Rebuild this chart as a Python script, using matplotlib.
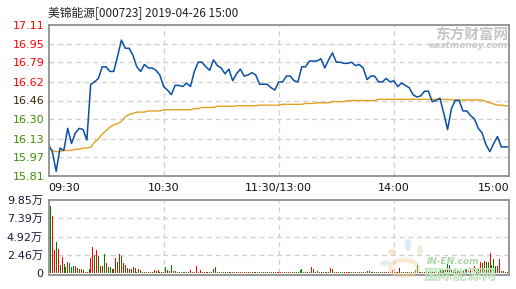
import matplotlib
matplotlib.use('Agg')
import matplotlib.pyplot as plt
import numpy as np
from matplotlib.patches import Circle, Ellipse

# ---------------- data ----------------
title = "美锦能源[000723] 2019-04-26 15:00"
prev_close = 16.46
price_ticks = [17.11, 16.95, 16.79, 16.62, 16.46, 16.30, 16.13, 15.97, 15.81]
vol_ticks = [0, 2.46, 4.92, 7.39, 9.85]
vol_tick_labels = ["0", "2.46万", "4.92万", "7.39万", "9.85万"]
time_ticks = [0, 60, 120, 180, 240]
time_labels = ["09:30", "10:30", "11:30/13:00", "14:00", "15:00"]

price_minutes = list(range(0, 241, 2))
price = [
    16.08, 16.02, 15.85, 16.05, 16.03, 16.22, 16.09, 16.18, 16.22, 16.21,
    16.12, 16.60, 16.62, 16.65, 16.75, 16.75, 16.71, 16.71, 16.84, 16.98,
    16.91, 16.91, 16.85, 16.75, 16.71, 16.77, 16.74, 16.74, 16.72, 16.68,
    16.58,
    16.55, 16.51, 16.59, 16.59, 16.58, 16.61, 16.58, 16.71, 16.79, 16.79,
    16.75, 16.72, 16.81, 16.76, 16.74, 16.69, 16.73, 16.63, 16.69, 16.73,
    16.67, 16.68, 16.70, 16.68, 16.60, 16.60, 16.60, 16.57, 16.55, 16.62,
    16.62, 16.67, 16.67, 16.63, 16.62, 16.75, 16.75, 16.80, 16.80, 16.80,
    16.82, 16.74, 16.81, 16.87, 16.79, 16.79, 16.78, 16.78, 16.79, 16.76,
    16.77, 16.74, 16.64, 16.67, 16.67, 16.62, 16.62, 16.65, 16.62, 16.63,
    16.58, 16.61, 16.59, 16.57, 16.51, 16.49, 16.50, 16.54, 16.54, 16.45,
    16.46, 16.48, 16.35, 16.21, 16.39, 16.46, 16.46, 16.37, 16.37, 16.33,
    16.30, 16.22, 16.18, 16.08, 16.02, 16.09, 16.15, 16.06, 16.06, 16.06,
]
avg_price = [
    16.05, 16.03, 16.02, 16.02, 16.03, 16.03, 16.03, 16.04, 16.04, 16.05,
    16.05, 16.06, 16.10, 16.13, 16.17, 16.20, 16.23, 16.25, 16.26, 16.28,
    16.32, 16.34, 16.35, 16.36, 16.36, 16.36, 16.37, 16.37, 16.37, 16.37,
    16.38,
    16.38, 16.38, 16.38, 16.38, 16.38, 16.38, 16.38, 16.39, 16.39, 16.40,
    16.40, 16.40, 16.40, 16.41, 16.41, 16.41, 16.41, 16.41, 16.415, 16.415,
    16.415, 16.415, 16.415, 16.415, 16.42, 16.42, 16.42, 16.42, 16.42, 16.42,
    16.427, 16.427, 16.427, 16.427, 16.427, 16.427, 16.435, 16.435, 16.435, 16.44,
    16.44, 16.44, 16.44, 16.45, 16.45, 16.45, 16.45, 16.46, 16.46, 16.46,
    16.46, 16.46, 16.46, 16.46, 16.46, 16.47, 16.47, 16.47, 16.47, 16.47,
    16.47, 16.47, 16.47, 16.47, 16.47, 16.47, 16.47, 16.47, 16.47, 16.47,
    16.47, 16.47, 16.47, 16.47, 16.465, 16.465, 16.465, 16.465, 16.465, 16.465,
    16.465, 16.465, 16.465, 16.45, 16.44, 16.43, 16.42, 16.42, 16.415, 16.41,
]

# volume per minute (unit: 万), 240 bars
volume = [
    9.05, 7.72, 3.06, 4.17, 3.19, 1.06, 2.13, 1.20, 0.84, 1.46,
    1.33, 0.80, 0.93, 0.93, 0.67, 0.53, 0.53, 0.40, 0.14, 0.14,
    0.53, 2.00, 3.46, 2.40, 3.06, 2.26, 0.93, 0.93, 2.53, 1.33,
    0.80, 0.80, 0.53, 0.53, 2.00, 1.46, 2.53, 2.26, 1.33, 1.06,
    0.67, 0.53, 0.53, 0.80, 0.67, 0.14, 0.53, 0.40, 0.14, 0.14,
    0.14, 0.14, 0.14, 0.14, 0.40, 0.27, 0.40, 0.14, 0.14, 0.14,
    0.80, 0.40, 0.27, 1.06, 0.27, 0.27, 0.14, 0.14, 0.14, 0.14,
    0.14, 0.14, 0.14, 0.40, 0.14, 0.14, 0.93, 0.14, 0.40, 0.14,
    0.14, 0.14, 0.14, 0.14, 0.14, 0.53, 0.80, 0.14, 0.14, 0.14,
    0.14, 0.14, 0.14, 0.14, 0.14, 0.14, 0.14, 0.14, 0.14, 0.14,
    0.14, 0.14, 0.14, 0.14, 0.14, 0.14, 0.14, 0.14, 0.14, 0.14,
    0.14, 0.14, 0.14, 0.14, 0.14, 0.14, 0.14, 0.14, 0.14, 0.14,
    0.14, 0.14, 0.14, 0.14, 0.14, 0.14, 0.14, 0.14, 0.14, 0.14,
    0.40, 0.53, 0.14, 0.14, 0.14, 0.14, 0.80, 0.53, 0.14, 0.27,
    0.14, 0.14, 0.14, 0.14, 0.14, 0.14, 0.67, 0.53, 0.14, 0.14,
    0.14, 0.14, 0.14, 0.14, 0.14, 0.14, 0.14, 0.14, 0.14, 0.14,
    0.14, 0.14, 0.14, 0.14, 0.14, 0.27, 0.27, 0.14, 0.14, 0.14,
    0.14, 0.14, 0.14, 0.14, 0.14, 0.14, 0.14, 0.14, 0.40, 0.14,
    0.14, 0.14, 0.67, 0.14, 0.14, 0.14, 0.14, 0.14, 0.14, 0.14,
    0.40, 1.06, 0.14, 0.14, 0.14, 0.14, 0.14, 0.14, 0.27, 0.14,
    0.14, 0.27, 0.14, 0.40, 0.67, 0.40, 0.53, 1.20, 1.06, 0.40,
    0.40, 0.53, 0.40, 0.27, 0.27, 0.27, 0.40, 0.53, 0.27, 0.67,
    0.53, 0.93, 0.40, 0.67, 1.46, 1.33, 1.60, 1.46, 1.46, 2.66,
    1.06, 1.86, 0.93, 0.93, 1.86, 0.27, 0.27, 0.14, 0.14, 2.80,
]
vol_dir = (
    "grrgrgrggr" "grgrrgrggg" "grrrrrgrgr" "gggrrrrgrg" "rgrggggrrg"
    "ggrrgrgrgg" "grggrrgrgr" "grgrgrrgrg" "rgrgrrggrg" "grgrggrgrg"
    "rgrggrgrgr" "grggrgrgrg" "rgrgrrgrgr" "rgrgrrrgrg" "rgrrgrrgrg"
    "rgrgrgrrgr" "grgrggrrgr" "grgrrgrggr" "rgrgrgrrgr" "rrgrgrgrgg"
    "ggrgggrgrg" "rgrggrgrgg" "rgggggggggr"[:10] + "gggrrgrgrr"
)

# ---------------- style ----------------
W, H = 516, 289
fig = plt.figure(figsize=(W / 100, H / 100), dpi=100)
fig.patch.set_facecolor('white')

L, R = 48.5, 509.0
ax = fig.add_axes([L / W, 1 - 176 / H, (R - L) / W, (176 - 25) / H])
axv = fig.add_axes([L / W, 1 - 273 / H, (R - L) / W, (273 - 200) / H])

spine_col = '#8f8f8f'
grid_kw = dict(color='#cfcfcf', linestyle=(0, (4, 3)), linewidth=0.9)

for a in (ax, axv):
    for s in a.spines.values():
        s.set_color(spine_col)
        s.set_linewidth(1.3)
        s.set_zorder(5)
    a.set_xlim(0, 240)
    a.tick_params(length=0)
axv.spines['bottom'].set_position(('outward', 1.2))

# price panel
ax.set_ylim(15.81, 17.11)
for t in price_ticks[1:-1]:
    ax.axhline(t, zorder=1, **grid_kw)
for t in time_ticks[1:-1]:
    ax.axvline(t, zorder=1, **grid_kw)

ax.plot(price_minutes, avg_price, color='#e0a020', linewidth=1.0, zorder=3)
ax.plot(price_minutes, price, color='#0b4fa3', linewidth=1.1, zorder=4)

ax.set_yticks(price_ticks)
ax.set_yticklabels([f"{t:.2f}" for t in price_ticks], fontsize=8,
                   family='DejaVu Sans')
for lab, t in zip(ax.get_yticklabels(), price_ticks):
    if t > prev_close + 1e-9:
        lab.set_color('#ff0000')
    elif t < prev_close - 1e-9:
        lab.set_color('#3c8c00')
    else:
        lab.set_color('#3a2a10')
ax.tick_params(axis='y', pad=3)

ax.set_xticks(time_ticks)
ax.set_xticklabels(time_labels, fontsize=8, family='DejaVu Sans', color='#111111')
ax.tick_params(axis='x', pad=5)
xl = ax.get_xticklabels()
xl[0].set_ha('left')
xl[-1].set_ha('right')

# volume panel
axv.set_ylim(0, 9.85)
for t in vol_ticks[1:-1]:
    axv.axhline(t, zorder=1, **grid_kw)
for t in time_ticks[1:-1]:
    axv.axvline(t, zorder=1, **grid_kw)

bar_x = np.arange(len(volume)) + 0.85
bar_cols = ['#ff0000' if d == 'r' else '#008000' for d in vol_dir[:len(volume)]]
axv.vlines(bar_x, 0, volume, colors=bar_cols, linewidth=0.72, zorder=3,
           antialiased=False, snap=True)
axv.set_yticks(vol_ticks)
axv.set_yticklabels(vol_tick_labels, fontsize=8,
                    family=['DejaVu Sans', 'Noto Sans CJK SC'], color='#1a1a3a')
axv.tick_params(axis='y', pad=4)
axv.set_xticks([])

# title
fig.text(L / W, 1 - 13 / H, title, fontsize=8.5, color='#222222',
         family=['Noto Sans CJK SC', 'DejaVu Sans'], ha='left', va='center')

# watermarks
fig.text(508 / W, 1 - 35 / H, "东方财富网", fontsize=10.5, color='#c4c4c4',
         family=['Noto Sans CJK SC'], weight='bold', ha='right', va='center')
fig.text(508 / W, 1 - 46 / H, "eastmoney.com", fontsize=6.5, color='#c8c8c8',
         family='DejaVu Sans', weight='bold', style='italic', ha='right', va='center')
fig.text(427 / W, 1 - 261 / H, "IN-EN.com", fontsize=6.5, color='#a8d8a0',
         family='DejaVu Sans', style='italic', weight='bold', ha='left', va='center')
fig.text(424 / W, 1 - 275 / H, "国际能源网", fontsize=10.5, color='#bfe5bb',
         family=['Noto Sans CJK SC'], weight='bold', ha='left', va='center')
ring = Circle((404 / W, 1 - 268 / H), 14 / W, transform=fig.transFigure,
              fill=False, edgecolor='#f3cf9a', linewidth=3.0, alpha=0.45)
fig.patches.append(ring)
for (cx, cy, w, h, c) in [(408, 245, 6, 12, '#a8d8f0'), (392, 252, 8, 6, '#f5c9a0'),
                          (420, 250, 6, 10, '#c8e6a8'), (385, 263, 10, 5, '#b8dcd8')]:
    e = Ellipse((cx / W, 1 - cy / H), w / W, h / H, transform=fig.transFigure,
                color=c, alpha=0.45, linewidth=0)
    fig.patches.append(e)

fig.savefig('out.png', dpi=100, facecolor='white')
